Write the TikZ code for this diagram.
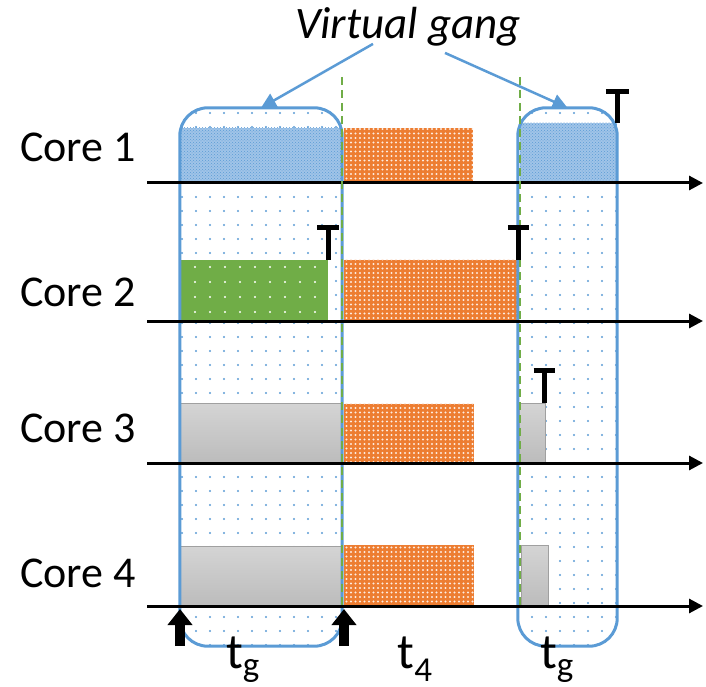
\documentclass[tikz,border=0pt]{standalone}
\usepackage{fontspec}
\setmainfont{Carlito}
\usetikzlibrary{arrows.meta, patterns, patterns.meta, positioning}
\definecolor{colGang}{RGB}{91,155,213}
\definecolor{colBlueBlk}{RGB}{160,196,232}
\definecolor{colOrange}{RGB}{237,125,49}
\definecolor{colGreen}{RGB}{112,173,71}
\definecolor{colGrayTop}{RGB}{212,212,212}
\definecolor{colGrayBot}{RGB}{188,188,188}
\definecolor{colGrayLine}{RGB}{160,160,160}
\tikzset{
  coreLabel/.style={
    font=\fontsize{44}{48}\selectfont, anchor=west, inner sep=0pt
  },
  tLabel/.style={
    font=\fontsize{50}{54}\selectfont, anchor=base, inner sep=0pt
  },
  gangBox/.style={
    rectangle, rounded corners=28pt, inner sep=0pt,
    pattern={Dots[distance=14pt, radius=1.2pt]}, pattern color=colGang
  },
  gangEdge/.style={
    draw=colGang, line width=3pt, rounded corners=28pt
  },
  blk/.style={
    rectangle, inner sep=0pt, anchor=south west
  },
  blkBlue/.style={
    blk, preaction={fill=colBlueBlk},
    pattern=crosshatch dots, pattern color=colGang
  },
  blkOrange/.style={
    blk, preaction={fill=colOrange},
    pattern={Dots[distance=4.5pt, radius=1.1pt]}, pattern color=white!85!colOrange
  },
  blkGreen/.style={
    blk, preaction={fill=colGreen},
    pattern={Dots[distance=15pt, radius=1.2pt]}, pattern color=white
  },
  blkGray/.style={
    blk, top color=colGrayTop, bottom color=colGrayBot,
    draw=colGrayLine, line width=1pt
  },
  axis/.style={
    -{Triangle[length=14pt, width=14pt]}, line width=3pt, black
  },
  tmark/.style={
    line width=5pt, black
  },
  upArr/.style={
    -{Triangle[length=16pt, width=24pt]}, line width=10pt, black
  },
  gangArr/.style={
    -{Triangle[length=15pt, width=15pt]}, line width=2.5pt, color=colGang
  },
  sepLine/.style={
    draw=colGreen, line width=1.5pt, dash pattern=on 8pt off 5pt
  }
}

\begin{document}
\begin{tikzpicture}[x=1pt, y=-1pt]
\useasboundingbox (0,0) rectangle (706,687);

%% ==============================================================
%% Virtual gang windows
%% ==============================================================
\node[gangBox, minimum width=162pt, minimum height=538pt] (gangA) at (261,377) {};
\node[gangBox, minimum width=99pt, minimum height=538pt] (gangB) at (567.5,377) {};

%% ==============================================================
%% Core rows
%% ==============================================================

% --- Core 1 ---
\node[coreLabel] (lab1) at (20,147) {Core 1};
\node[blkBlue, minimum width=162pt, minimum height=55pt] (c1g) at (180,183) {};
\node[blkOrange, minimum width=129pt, minimum height=55pt] (c1o) at (344,183) {};
\node[blkBlue, minimum width=97pt, minimum height=60pt] (c1r) at (520,183) {};

% --- Core 2 ---
\node[coreLabel] (lab2) at (20,292) {Core 2};
\node[blkGreen, minimum width=148pt, minimum height=61pt] (c2g) at (180,321) {};
\node[blkOrange, minimum width=174pt, minimum height=61pt] (c2o) at (344,321) {};

% --- Core 3 ---
\node[coreLabel] (lab3) at (20,428) {Core 3};
\node[blkGray, minimum width=162pt, minimum height=59pt] (c3g) at (180,463) {};
\node[blkOrange, minimum width=130pt, minimum height=59pt] (c3o) at (344,463) {};
\node[blkGray, minimum width=26pt, minimum height=59pt] (c3r) at (519,463) {};

% --- Core 4 ---
\node[coreLabel] (lab4) at (20,573) {Core 4};
\node[blkGray, minimum width=162pt, minimum height=59pt] (c4g) at (180,606) {};
\node[blkOrange, minimum width=130pt, minimum height=61pt] (c4o) at (344,606) {};
\node[blkGray, minimum width=27pt, minimum height=60pt] (c4r) at (521,606) {};

% gang outlines on top of the blocks
\draw[gangEdge] (gangA.south west) rectangle (gangA.north east);
\draw[gangEdge] (gangB.south west) rectangle (gangB.north east);

%% ==============================================================
%%  Time axes
%% ==============================================================
\draw[axis] (147,183) -- (703,183);
\draw[axis] (147,321) -- (703,321);
\draw[axis] (147,463) -- (703,463);
\draw[axis] (147,606) -- (703,606);

% gang boundaries
\draw[sepLine] (342,77) -- (342,606);
\draw[sepLine] (520,77) -- (520,606);

% completion marks
\draw[tmark] (c1r.north east) -- ++(0,-31) ++(-11.5,0) -- ++(23,0);
\draw[tmark] (c2g.north east) -- ++(0,-32) ++(-11,0) -- ++(22,0);
\draw[tmark] (c2o.north east) -- ++(0,-32) ++(-10.5,0) -- ++(21,0);
\draw[tmark] ([xshift=-2pt]c3r.north east) -- ++(0,-33) ++(-10.5,0) -- ++(21,0);

% gang release arrows
\coordinate (relA) at (180,646);
\coordinate (relB) at (344,646);
\draw[upArr] (relA) -- ++(0,-37);
\draw[upArr] (relB) -- ++(0,-37);

%% ==============================================================
%%  Labels
%% ==============================================================
\node[tLabel] (tgA) at (243,668) {t\textsubscript{g}};
\node[tLabel] (t4) at (415,668) {t\textsubscript{4}};
\node[tLabel] (tgB) at (557,668) {t\textsubscript{g}};

\node[font=\fontsize{45}{49}\selectfont\itshape, anchor=base, inner sep=0pt]
    (vg) at (408,39) {Virtual gang};
\draw[gangArr] ([xshift=-35pt, yshift=3pt]vg.south) -- (gangA.north);
\draw[gangArr] ([xshift=37pt, yshift=-6pt]vg.south) -- (gangB.north);

\end{tikzpicture}
\end{document}
